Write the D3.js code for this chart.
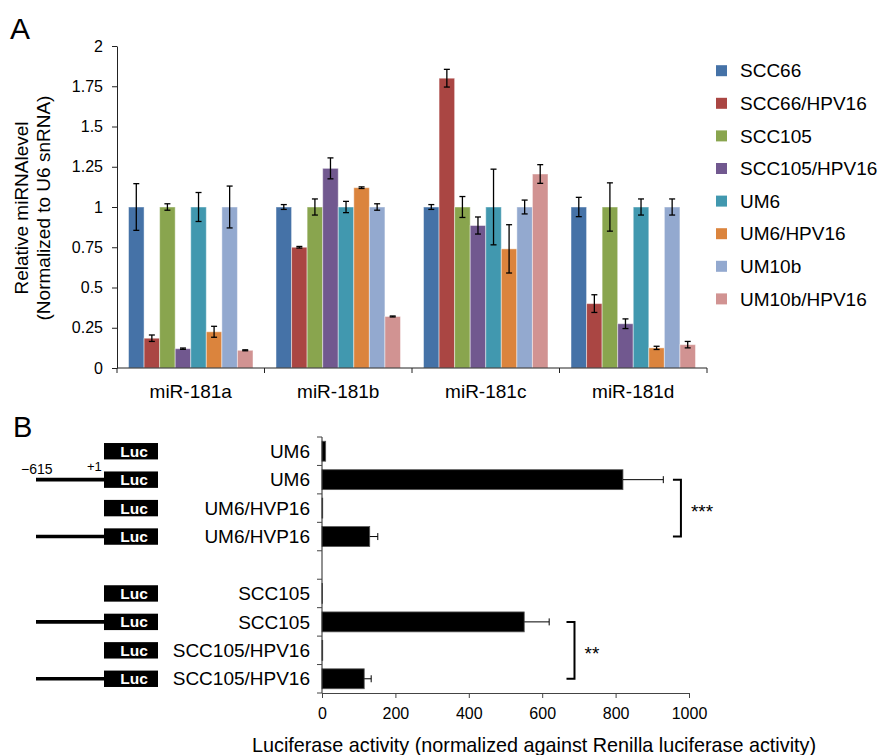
<!DOCTYPE html>
<html>
<head>
<meta charset="utf-8">
<script src="https://cdn.jsdelivr.net/npm/d3@7/dist/d3.min.js"></script>
<style>
  body { margin: 0; background: #fff; }
  svg { font-family: "Liberation Sans", Arial, sans-serif; }
  .tick text { font-size: 16px; fill: #000; }
</style>
</head>
<body>
<svg id="fig" width="879" height="755"></svg>
<script>
// ---- Panel A data: relative miRNA level per cell line ----
const groups = ['miR-181a', 'miR-181b', 'miR-181c', 'miR-181d'];
const cellLines = ['SCC66', 'SCC66/HPV16', 'SCC105', 'SCC105/HPV16', 'UM6', 'UM6/HPV16', 'UM10b', 'UM10b/HPV16'];
const lineColors = ['#4572A7', '#AA4643', '#89A54E', '#71588F', '#4198AF', '#DB843D', '#93A9CF', '#D19392'];
// one row per miRNA, one value per cell line
const mirMeans = [
  [1.0, 0.185, 1.0, 0.12, 1.0, 0.225, 1.0, 0.11],
  [1.0, 0.75, 1.0, 1.24, 1.0, 1.12, 1.0, 0.32],
  [1.0, 1.8, 1.0, 0.885, 1.0, 0.74, 1.0, 1.205],
  [1.0, 0.4, 1.0, 0.275, 1.0, 0.125, 1.0, 0.145]
];
const mirErrors = [
  [0.145, 0.02, 0.02, 0.004, 0.09, 0.034, 0.13, 0.003],
  [0.015, 0.005, 0.05, 0.065, 0.035, 0.005, 0.02, 0.003],
  [0.015, 0.055, 0.065, 0.053, 0.235, 0.15, 0.043, 0.058],
  [0.06, 0.055, 0.15, 0.03, 0.05, 0.01, 0.05, 0.02]
];
const yTicksA = [0, 0.25, 0.5, 0.75, 1, 1.25, 1.5, 1.75, 2];

// ---- Panel B data: luciferase reporter activity ----
const rows = ['r1', 'r2', 'r3', 'r4', 'gap', 'r5', 'r6', 'r7', 'r8'];
const rowLabels = ['UM6', 'UM6', 'UM6/HVP16', 'UM6/HVP16', '', 'SCC105', 'SCC105', 'SCC105/HPV16', 'SCC105/HPV16'];
const hasPromoter = [false, true, false, true, null, false, true, false, true];
const lucValues = [10, 820, 2, 130, null, 1, 551, 2, 115];
const lucErrors = [0, 110, 0, 22, null, 0, 68, 0, 19];
const xTicksB = [0, 200, 400, 600, 800, 1000];
// significance brackets: rows joined, bracket position in activity units
const brackets = [
  {from: 'r2', to: 'r4', at: 978, label: '***'},
  {from: 'r6', to: 'r8', at: 688, label: '**'}
];

const svg = d3.select('#fig');

//Panel letters
svg.append('text').text('A').attr('x', 10).attr('y', 39).style('font-size', '30px');
svg.append('text').text('B').attr('x', 13).attr('y', 437).style('font-size', '29px');

// ================= Panel A =================
let x0 = d3.scaleBand().domain(groups).range([117, 707]);
let x1 = d3.scaleBand().domain(cellLines).range([0, x0.bandwidth()]).paddingOuter(0.74);
let yA = d3.scaleLinear().domain([0, 2]).range([368, 46]);

let gA = svg.append('g');

//Bars
let barGroups = gA.selectAll('g.grp')
  .data(groups)
  .join('g')
  .attr('class', 'grp')
  .attr('transform', d => 'translate(' + x0(d) + ',0)');

barGroups.selectAll('rect')
  .data((g, gi) => cellLines.map((c, i) => ({c: c, i: i, v: mirMeans[gi][i], e: mirErrors[gi][i]})))
  .join('rect')
  .attr('x', d => x1(d.c))
  .attr('y', d => yA(d.v))
  .attr('width', x1.bandwidth())
  .attr('height', d => yA(0) - yA(d.v))
  .attr('fill', d => lineColors[d.i])
  .attr('stroke', 'rgba(255,255,255,0.45)')
  .attr('stroke-width', 1);

//Error bars
let errA = barGroups.selectAll('g.err')
  .data((g, gi) => cellLines.map((c, i) => ({c: c, v: mirMeans[gi][i], e: mirErrors[gi][i]})))
  .join('g')
  .attr('class', 'err')
  .attr('stroke', '#000')
  .attr('stroke-width', 1.3);
errA.append('line')
  .attr('x1', d => x1(d.c) + x1.bandwidth() / 2)
  .attr('x2', d => x1(d.c) + x1.bandwidth() / 2)
  .attr('y1', d => yA(d.v + d.e))
  .attr('y2', d => yA(d.v - d.e));
errA.selectAll('line.cap')
  .data(d => [d.v + d.e, d.v - d.e].map(y => ({c: d.c, y: y})))
  .join('line')
  .attr('class', 'cap')
  .attr('x1', d => x1(d.c) + x1.bandwidth() / 2 - 3)
  .attr('x2', d => x1(d.c) + x1.bandwidth() / 2 + 3)
  .attr('y1', d => yA(d.y))
  .attr('y2', d => yA(d.y));

//Y axis
let yAxisA = d3.axisLeft(yA).tickValues(yTicksA).tickFormat(d3.format('~g')).tickSize(5).tickSizeOuter(0).tickPadding(9);
gA.append('g').attr('transform', 'translate(117,0)').call(yAxisA)
  .attr('font-family', null).attr('font-size', null)
  .call(g => g.selectAll('line, path').attr('stroke', '#222'));

//X axis: line plus ticks on the group boundaries
gA.append('line').attr('x1', 117).attr('x2', 707).attr('y1', yA(0)).attr('y2', yA(0)).attr('stroke', '#222');
let bounds = groups.map(g => x0(g)).concat([x0.range()[1]]);
gA.selectAll('line.xb')
  .data(bounds)
  .join('line')
  .attr('class', 'xb')
  .attr('x1', d => d).attr('x2', d => d)
  .attr('y1', yA(0)).attr('y2', yA(0) + 5)
  .attr('stroke', '#222');
gA.selectAll('text.cat')
  .data(groups)
  .join('text')
  .attr('class', 'cat')
  .attr('x', d => x0(d) + x0.bandwidth() / 2)
  .attr('y', 398)
  .attr('text-anchor', 'middle')
  .style('font-size', '19px')
  .text(d => d);

//Y axis title
let yTitle = gA.append('text')
  .attr('text-anchor', 'middle')
  .attr('transform', 'translate(28,208)rotate(-90)')
  .style('font-size', '19px');
yTitle.append('tspan').attr('x', 0).attr('dy', 0).text('Relative miRNAlevel');
yTitle.append('tspan').attr('x', 0).attr('dy', 22).text('(Normalized to U6 snRNA)');

//Legend
let legend = gA.selectAll('g.leg')
  .data(cellLines)
  .join('g')
  .attr('class', 'leg')
  .attr('transform', (d, i) => 'translate(716,' + (70.7 + i * 32.6) + ')');
legend.append('rect')
  .attr('x', 0).attr('y', -5.5)
  .attr('width', 11).attr('height', 11)
  .attr('fill', (d, i) => lineColors[i]);
legend.append('text')
  .attr('x', 24).attr('y', 0)
  .attr('dy', '0.35em')
  .style('font-size', '19px')
  .text(d => d);

// ================= Panel B =================
let xB = d3.scaleLinear().domain([0, 1000]).range([322, 689]);
let yB = d3.scaleBand().domain(rows).range([437, 693]).paddingInner(0.3).paddingOuter(0.15);

let gB = svg.append('g');
let rowData = rows.map((r, i) => ({r: r, label: rowLabels[i], prom: hasPromoter[i], v: lucValues[i], e: lucErrors[i]}))
  .filter(d => d.v !== null);

//Bars
gB.selectAll('rect.bar')
  .data(rowData)
  .join('rect')
  .attr('class', 'bar')
  .attr('x', xB(0))
  .attr('y', d => yB(d.r))
  .attr('width', d => xB(d.v) - xB(0))
  .attr('height', yB.bandwidth())
  .attr('fill', '#000')
  .attr('stroke', '#555')
  .attr('stroke-width', 0.8);

//One-sided error bars
let errB = gB.selectAll('g.errb')
  .data(rowData.filter(d => d.e > 0))
  .join('g')
  .attr('class', 'errb')
  .attr('stroke', '#000')
  .attr('stroke-width', 1);
errB.append('line')
  .attr('x1', d => xB(d.v)).attr('x2', d => xB(d.v + d.e))
  .attr('y1', d => yB(d.r) + yB.bandwidth() / 2)
  .attr('y2', d => yB(d.r) + yB.bandwidth() / 2);
errB.append('line')
  .attr('x1', d => xB(d.v + d.e)).attr('x2', d => xB(d.v + d.e))
  .attr('y1', d => yB(d.r) + yB.bandwidth() / 2 - 3.5)
  .attr('y2', d => yB(d.r) + yB.bandwidth() / 2 + 3.5);

//Y axis line and row boundary ticks
let step = yB.step();
let rowBounds = d3.range(rows.length + 1).map(i => yB.range()[0] + i * step);
gB.append('line').attr('x1', xB(0)).attr('x2', xB(0)).attr('y1', rowBounds[0]).attr('y2', rowBounds[rows.length]).attr('stroke', '#222');
gB.selectAll('line.yb')
  .data(rowBounds)
  .join('line')
  .attr('class', 'yb')
  .attr('x1', xB(0) - 5).attr('x2', xB(0))
  .attr('y1', d => d).attr('y2', d => d)
  .attr('stroke', '#444');

//X axis
let xAxisB = d3.axisBottom(xB).tickValues(xTicksB).tickFormat(d3.format('d')).tickSize(5).tickSizeOuter(0).tickPadding(10);
gB.append('g').attr('transform', 'translate(0,' + rowBounds[rows.length] + ')').call(xAxisB)
  .attr('font-family', null).attr('font-size', null)
  .call(g => g.selectAll('line, path').attr('stroke', '#444'));
gB.append('text')
  .attr('x', 534).attr('y', 752)
  .attr('text-anchor', 'middle')
  .style('font-size', '19.8px')
  .text('Luciferase activity (normalized against Renilla luciferase activity)');

//Row labels
gB.selectAll('text.rowlab')
  .data(rowData)
  .join('text')
  .attr('class', 'rowlab')
  .attr('x', 310)
  .attr('y', d => yB(d.r) + yB.bandwidth() / 2)
  .attr('dy', '0.35em')
  .attr('text-anchor', 'end')
  .style('font-size', '19px')
  .text(d => d.label);

//Reporter constructs: Luc box, optional promoter line
let construct = gB.selectAll('g.construct')
  .data(rowData)
  .join('g')
  .attr('class', 'construct')
  .attr('transform', d => 'translate(0,' + (yB(d.r) + yB.bandwidth() / 2) + ')');
construct.append('rect')
  .attr('x', 104).attr('y', -8.2)
  .attr('width', 54).attr('height', 16.4)
  .attr('fill', '#000');
construct.append('text')
  .attr('x', 134).attr('y', 0)
  .attr('dy', '0.36em')
  .attr('text-anchor', 'middle')
  .attr('fill', '#fff')
  .style('font-size', '15.5px')
  .style('font-weight', 'bold')
  .text('Luc');
construct.filter(d => d.prom)
  .append('line')
  .attr('x1', 36).attr('x2', 104)
  .attr('y1', 0).attr('y2', 0)
  .attr('stroke', '#000')
  .attr('stroke-width', 3.6);

//Promoter coordinates over the first promoter construct
let firstProm = rowData.find(d => d.prom);
let pY = yB(firstProm.r) + yB.bandwidth() / 2;
gB.append('text').attr('x', 21).attr('y', pY - 6).style('font-size', '14px').text('\u2212615');
gB.append('text').attr('x', 87).attr('y', pY - 9).style('font-size', '13px').text('+1');

//Significance brackets
brackets.forEach(b => {
  let y1 = yB(b.from) + yB.bandwidth() / 2;
  let y2 = yB(b.to) + yB.bandwidth() / 2;
  let bx = xB(b.at);
  gB.append('path')
    .attr('d', 'M' + (bx - 8) + ',' + y1 + 'H' + bx + 'V' + y2 + 'H' + (bx - 8))
    .attr('fill', 'none')
    .attr('stroke', '#000')
    .attr('stroke-width', 2);
  gB.append('text')
    .attr('x', bx + 10)
    .attr('y', (y1 + y2) / 2 + 10)
    .style('font-size', '19px')
    .text(b.label);
});
</script>
</body>
</html>
